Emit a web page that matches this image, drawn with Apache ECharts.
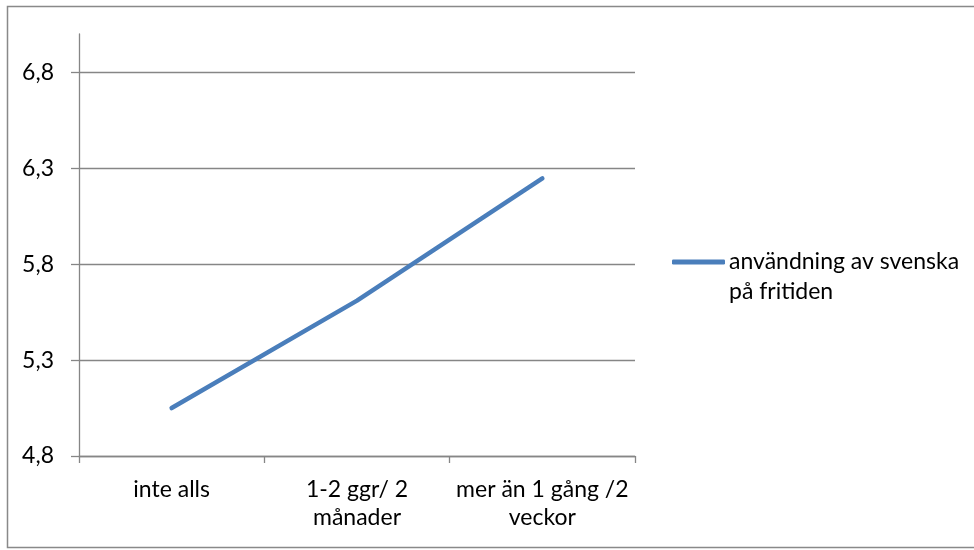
<!DOCTYPE html>
<html>
<head>
<meta charset="utf-8">
<script src="https://cdn.jsdelivr.net/npm/echarts@6/dist/echarts.min.js"></script>
<style>html,body{margin:0;padding:0;background:#fff}#c{width:974px;height:550px}</style>
</head>
<body>
<div id="c"></div>
<script>
var categories = ['inte alls', '1-2 ggr/ 2\nmånader', 'mer än 1 gång /2\nveckor'];
var seriesName = 'användning av svenska\npå fritiden';
var values = [5.05, 5.61, 6.247];
var yTicks = [4.8, 5.3, 5.8, 6.3, 6.8];
var yMin = 4.8, yMax = 7.0;

var chart = echarts.init(document.getElementById('c'), null, {renderer: 'canvas'});
var font = 'Lato, Carlito, "Open Sans", sans-serif';
var gridColor = '#868686';
chart.setOption({
  animation: false,
  textStyle: {fontFamily: font},
  graphic: [{
    type: 'rect', shape: {x: 7.5, y: 6.5, width: 970, height: 541},
    style: {fill: 'none', stroke: '#898989', lineWidth: 1.5}, silent: true
  }],
  grid: {left: 79, right: 339, top: 34, bottom: 94},
  legend: {
    left: 672, top: 217, padding: 0,
    itemWidth: 53, itemHeight: 5, itemGap: 0,
    icon: 'roundRect',
    data: [seriesName],
    formatter: function (n) { return ' \n' + n; },
    textStyle: {fontFamily: font, fontSize: 23, color: '#000', lineHeight: 30, padding: [0, 0, 0, -1]}
  },
  xAxis: {
    type: 'category', data: categories, boundaryGap: true,
    axisLine: {lineStyle: {color: gridColor, width: 1.3}},
    axisTick: {show: true, length: 7, alignWithLabel: false, lineStyle: {color: gridColor, width: 1.3}},
    axisLabel: {interval: 0, margin: 20, fontSize: 23, color: '#000', lineHeight: 28, fontFamily: font}
  },
  yAxis: {
    type: 'value', min: yMin, max: yMax,
    axisLine: {show: true, lineStyle: {color: gridColor, width: 1.3}},
    axisTick: {show: true, length: 8, customValues: yTicks, lineStyle: {color: gridColor, width: 1.3}},
    axisLabel: {customValues: yTicks, margin: 25, fontSize: 23, color: '#000', fontFamily: font,
      formatter: function (v) { return v.toFixed(1).replace('.', ','); }},
    splitLine: {show: true, lineStyle: {color: gridColor, width: 1.3}}
  },
  series: [{
    name: seriesName, type: 'line', data: values,
    showSymbol: false, symbol: 'none',
    lineStyle: {color: '#4A7EBB', width: 4.5, cap: 'round', join: 'round'},
    itemStyle: {color: '#4A7EBB'}
  }]
});
</script>
</body>
</html>
